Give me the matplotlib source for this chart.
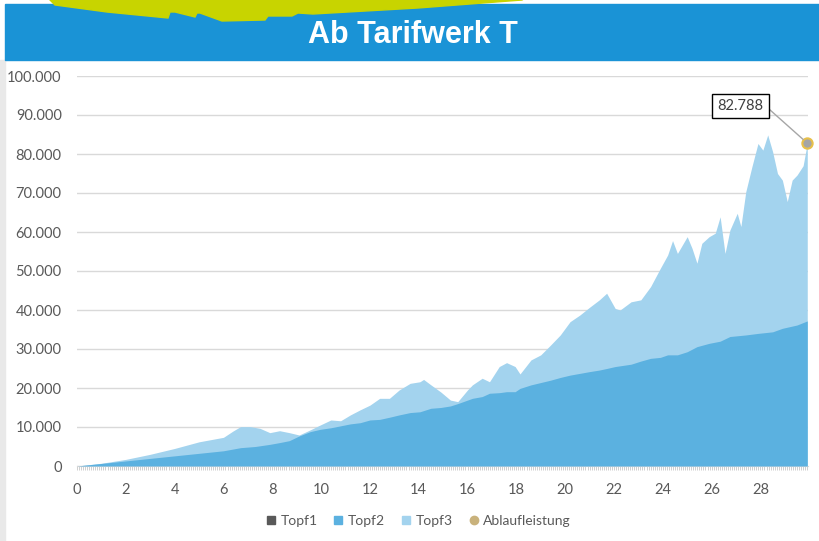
import matplotlib.pyplot as plt
from matplotlib.patches import Rectangle, Polygon
from matplotlib.lines import Line2D

W, H = 819, 541

# Laufzeit in Jahren / Werte
JAHRE_GESAMT = [0, 1, 2, 3, 4, 5, 6, 6.4, 6.7, 7.1, 7.5, 7.9, 8.3, 8.7, 9.1, 9.55,
                9.96, 10.4, 10.8, 11.2, 11.6, 12.0, 12.4, 12.8, 13.2, 13.65, 14.05,
                14.2, 14.5, 14.9, 15.3, 15.6, 16.0, 16.2, 16.6, 16.9, 17.3, 17.6,
                17.95, 18.15, 18.6, 19.0, 19.4, 19.8, 20.2, 20.6, 21.0, 21.4, 21.7,
                22.05, 22.25, 22.7, 23.1, 23.5, 23.9, 24.2, 24.4, 24.6, 25.0, 25.2,
                25.4, 25.6, 25.9, 26.15, 26.35, 26.55, 26.75, 27.05, 27.2, 27.4,
                27.65, 27.9, 28.1, 28.3, 28.5, 28.7, 28.9, 29.1, 29.3, 29.5, 29.75,
                29.92]
# Oberkante der Flaeche (Topf1 + Topf2 + Topf3)
GESAMT = [0, 700, 1700, 3000, 4500, 6200, 7350, 9000, 10100, 10100, 9650, 8550,
          9050, 8550, 7950, 9250, 10500, 11800, 11600, 13100, 14400, 15600, 17350,
          17350, 19500, 21200, 21600, 22200, 20800, 19000, 16900, 16500, 19500,
          20800, 22500, 21600, 25500, 26500, 25500, 23600, 27200, 28500, 31000,
          33600, 37000, 38700, 40700, 42600, 44300, 40400, 40000, 42100, 42600,
          46000, 50700, 54100, 57800, 54500, 58800, 55800, 52000, 57100, 58800,
          59700, 63900, 54500, 60500, 64800, 61400, 70300, 76700, 82700, 81000,
          84900, 80600, 75000, 73300, 67800, 73300, 74600, 77000, 82788]

JAHRE_TOPF2 = [0, 2, 4, 5, 6, 6.7, 7.3, 7.9, 8.3, 8.7, 9.1, 9.55, 9.96, 10.4, 10.8,
               11.2, 11.6, 12.0, 12.4, 12.8, 13.2, 13.65, 14.05, 14.5, 14.9, 15.3,
               15.6, 16.0, 16.2, 16.6, 16.9, 17.3, 17.6, 17.95, 18.15, 18.6, 19.0,
               19.4, 19.8, 20.2, 20.6, 21.0, 21.4, 21.7, 22.05, 22.7, 23.1, 23.5,
               23.9, 24.2, 24.6, 25.0, 25.4, 25.9, 26.35, 26.75, 27.4, 27.9, 28.5,
               28.9, 29.5, 29.92]
TOPF2 = [0, 1300, 2600, 3250, 3900, 4700, 5000, 5550, 6000, 6500, 7700, 8800, 9400,
         9800, 10300, 10800, 11100, 11800, 11950, 12500, 13100, 13700, 13900, 14800,
         15000, 15400, 16000, 16900, 17350, 17800, 18650, 18800, 19050, 19050, 19900,
         20800, 21400, 22000, 22700, 23300, 23750, 24200, 24600, 25000, 25500, 26100,
         26900, 27600, 27850, 28500, 28500, 29300, 30600, 31450, 32000, 33200, 33600,
         34000, 34400, 35300, 36150, 37200]

JAHRE_TOPF1 = [0, 29.92]
TOPF1 = [0, 0]

ABLAUF_JAHR = 29.92
ABLAUFLEISTUNG = 82788

X_TICKS = [0, 2, 4, 6, 8, 10, 12, 14, 16, 18, 20, 22, 24, 26, 28]
Y_TICKS = [0, 10000, 20000, 30000, 40000, 50000, 60000, 70000, 80000, 90000, 100000]

C_TOPF1 = '#595959'
C_TOPF2 = '#5BB1E0'
C_TOPF3 = '#A3D3EE'
C_ABLAUF = '#C9B27C'


def de(v):
    return f"{v:,.0f}".replace(",", ".")


def px(x, y):
    return (x / W, 1 - y / H)


plt.rcParams['font.family'] = ['Lato', 'DejaVu Sans']

fig = plt.figure(figsize=(W / 100, H / 100), dpi=100)
fig.patch.set_facecolor('white')

# Kopfzeile
fig.add_artist(Rectangle(px(0, 541), 5 / W, 481 / H, transform=fig.transFigure,
                         color='#E9E9E9', zorder=0))
fig.add_artist(Rectangle(px(5, 60), (W - 5) / W, 56 / H, transform=fig.transFigure,
                         color='#1A93D6', zorder=1))
gruen = [(46, -5), (50, 0), (55, 5), (107, 12), (168, 18), (170, 12), (175, 12),
         (187, 15), (195, 17), (197, 13), (200, 13), (222, 21), (265, 20), (268, 16),
         (280, 16), (292, 16), (298, 13), (313, 14), (418, 8), (522, 0), (530, -5)]
fig.add_artist(Polygon([px(a, b) for a, b in gruen], closed=True,
                       transform=fig.transFigure, color='#C8D400', zorder=2))
fig.text(413 / W, 1 - 35 / H, 'Ab Tarifwerk T', color='white', fontsize=22,
         fontweight='bold', family='Liberation Sans', ha='center', va='center', zorder=3)

ax = fig.add_axes([77 / W, 75 / H, (808 - 77) / W, (466 - 76) / H])
ax.fill_between(JAHRE_GESAMT, 0, GESAMT, color=C_TOPF3, lw=0, zorder=2)
ax.fill_between(JAHRE_TOPF2, 0, TOPF2, color=C_TOPF2, lw=0, zorder=3)
ax.fill_between(JAHRE_TOPF1, 0, TOPF1, color=C_TOPF1, lw=0, zorder=4)
ax.scatter([ABLAUF_JAHR], [ABLAUFLEISTUNG], s=55, c='#A5A5A5', edgecolors='#E8C04A',
           linewidths=1.5, zorder=6, clip_on=False)
ax.annotate(de(ABLAUFLEISTUNG), xy=(ABLAUF_JAHR, ABLAUFLEISTUNG),
            xytext=(-48, 27), textcoords='offset points', ha='center', va='center',
            fontsize=10.5, color='#404040',
            bbox=dict(boxstyle='square,pad=0.35', fc='white', ec='black', lw=1),
            arrowprops=dict(arrowstyle='-', color='#A6A6A6', lw=1, relpos=(1, 0.6),
                            shrinkA=0, shrinkB=4), zorder=7)

ax.set_xlim(0, 29.95)
ax.set_ylim(0, 100000)
ax.set_yticks(Y_TICKS)
ax.set_yticklabels([de(v) for v in Y_TICKS])
ax.set_xticks(X_TICKS)
ax.set_xticklabels([str(v) for v in X_TICKS])
ax.set_xticks([m / 12 for m in range(360)], minor=True)
ax.grid(axis='y', color='#D9D9D9', lw=1, zorder=0)
ax.set_axisbelow(True)
for s in ['top', 'right', 'left']:
    ax.spines[s].set_visible(False)
ax.spines['bottom'].set_color('#D9D9D9')
ax.tick_params(axis='y', length=0, pad=11, labelsize=10.5, labelcolor='#595959')
ax.tick_params(axis='x', which='both', length=3, width=0.6, color='#C8C8C8',
               pad=9, labelsize=10.5, labelcolor='#595959')

handles = [Line2D([], [], ls='', marker='s', ms=6, color=C_TOPF1),
           Line2D([], [], ls='', marker='s', ms=6, color=C_TOPF2),
           Line2D([], [], ls='', marker='s', ms=6, color=C_TOPF3),
           Line2D([], [], ls='', marker='o', ms=6, color=C_ABLAUF)]
fig.legend(handles, ['Topf1', 'Topf2', 'Topf3', 'Ablaufleistung'], loc='center',
           bbox_to_anchor=(418 / W, 1 - 521 / H), ncol=4, frameon=False, fontsize=10,
           handlelength=0.8, handletextpad=0.3, columnspacing=1.1, labelcolor='#595959')

fig.savefig('out.png', dpi=100)
